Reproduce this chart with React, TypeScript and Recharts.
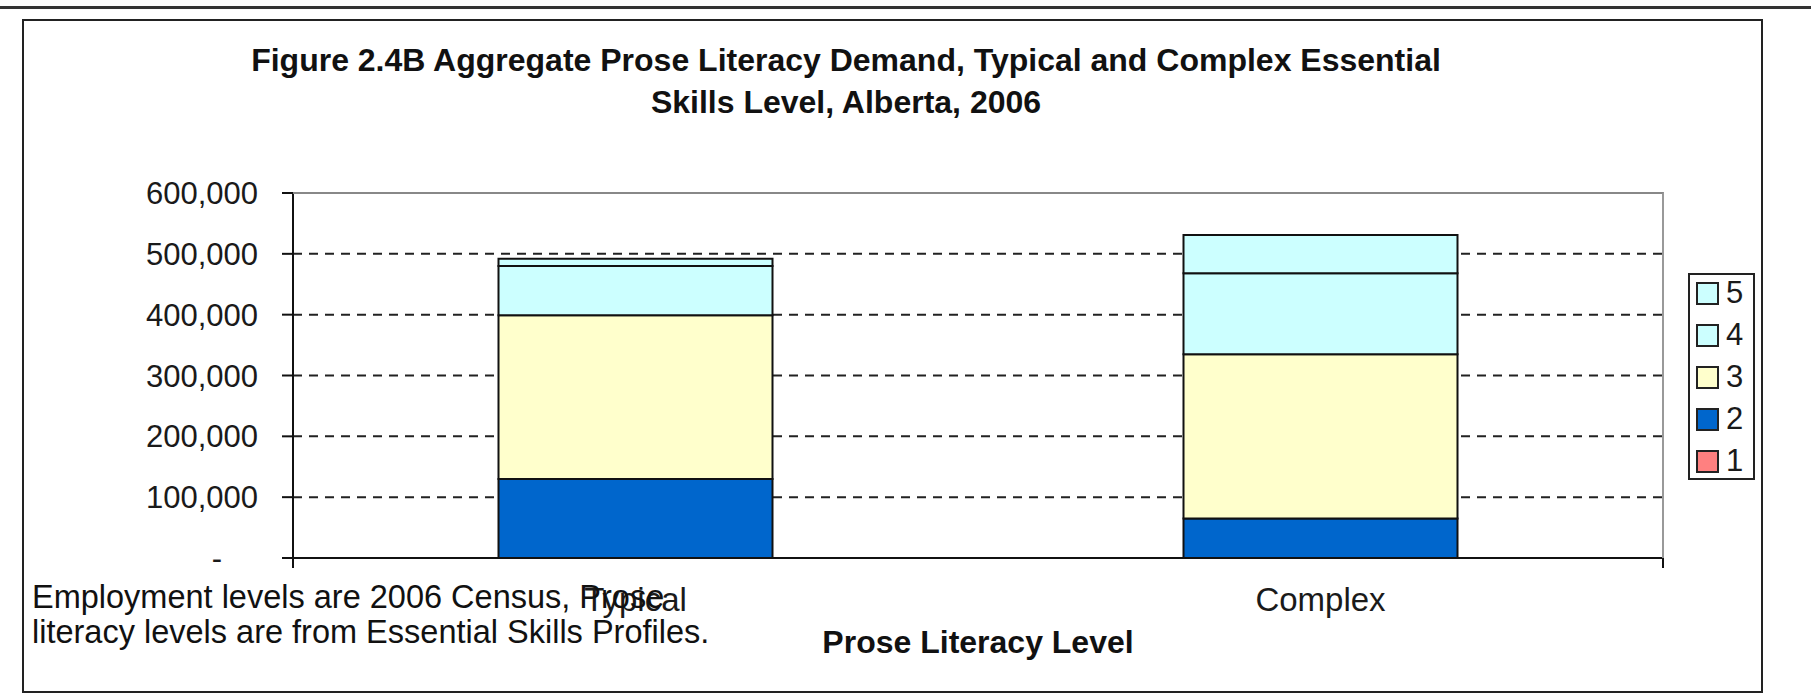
import React from "react";
import { BarChart, Bar, XAxis, YAxis, CartesianGrid } from "recharts";

// values (people employed, Alberta 2006)
const CATEGORIES = ["Typical", "Complex"];
const LEVEL_1 = [0, 0];
const LEVEL_2 = [130000, 65000];
const LEVEL_3 = [269000, 270000];
const LEVEL_4 = [81000, 133000];
const LEVEL_5 = [12000, 63000];
const Y_TICKS = [0, 100000, 200000, 300000, 400000, 500000, 600000];
const GRID_VALUES = [100000, 200000, 300000, 400000, 500000];
const EDGE_TICKS = [0, 1, 2];

const SERIES = [
  { key: "l1", name: "1", values: LEVEL_1, color: "#FF8080" },
  { key: "l2", name: "2", values: LEVEL_2, color: "#0066CC" },
  { key: "l3", name: "3", values: LEVEL_3, color: "#FFFFCC" },
  { key: "l4", name: "4", values: LEVEL_4, color: "#CCFFFF" },
  { key: "l5", name: "5", values: LEVEL_5, color: "#CCFFFF" },
];

const data = CATEGORIES.map((cat, i) => {
  const row: Record<string, string | number> = { cat };
  SERIES.forEach((s) => (row[s.key] = s.values[i]));
  return row;
});

const FONT = '"Liberation Sans", Arial, sans-serif';

const YTick = (props: any) => {
  const { x, y, payload } = props;
  const zero = payload.value === 0;
  return (
    <text
      x={x - (zero ? 36 : 0)}
      y={y}
      dy="0.36em"
      textAnchor="end"
      fontFamily={FONT}
      fontSize={31}
      fill="#1a1a1a"
    >
      {zero ? "-" : payload.value.toLocaleString("en-US")}
    </text>
  );
};

export default function App() {
  return (
    <div
      style={{
        position: "absolute",
        left: 0,
        top: 0,
        width: 1811,
        height: 698,
        overflow: "hidden",
        background: "#fff",
        fontFamily: FONT,
      }}
    >
      {/* page rule and chart frame */}
      <div style={{ position: "absolute", left: 0, top: 6, width: 1811, height: 3, background: "#333" }} />
      <div
        style={{
          position: "absolute",
          left: 22,
          top: 19,
          width: 1741,
          height: 674,
          border: "2px solid #222",
          boxSizing: "border-box",
        }}
      />
      <div
        style={{
          position: "absolute",
          left: 146,
          top: 39,
          width: 1400,
          textAlign: "center",
          whiteSpace: "nowrap",
          fontWeight: "bold",
          fontSize: 32,
          lineHeight: "42px",
          color: "#111",
        }}
      >
        Figure 2.4B Aggregate Prose Literacy Demand, Typical and Complex Essential
        <br />
        Skills Level, Alberta, 2006
      </div>

      <div style={{ position: "absolute", left: 0, top: 0 }}>
        <BarChart
          width={1811}
          height={698}
          data={data}
          barCategoryGap="30%"
          margin={{ top: 193, right: 148, bottom: 68, left: 173 }}
        >
          <CartesianGrid
            xAxisId="b"
            vertical={false}
            horizontalValues={GRID_VALUES}
            stroke="#222"
            strokeWidth={2}
            strokeDasharray="9 7"
          />
          {/* boundary ticks between categories, Excel style */}
          <XAxis
            xAxisId="a"
            type="number"
            domain={[0, 2]}
            ticks={EDGE_TICKS}
            tickFormatter={() => ""}
            tickSize={10}
            height={12}
            axisLine={{ stroke: "#111", strokeWidth: 2 }}
            tickLine={{ stroke: "#111", strokeWidth: 2 }}
          />
          <XAxis
            xAxisId="b"
            dataKey="cat"
            height={60}
            axisLine={false}
            tickLine={false}
            tickSize={0}
            tickMargin={18}
            tick={{ fontFamily: FONT, fontSize: 33, fill: "#1a1a1a" }}
          />
          <YAxis
            domain={[0, 600000]}
            ticks={Y_TICKS}
            width={120}
            tickSize={11}
            tickMargin={24}
            tick={<YTick />}
            axisLine={{ stroke: "#111", strokeWidth: 2 }}
            tickLine={{ stroke: "#111", strokeWidth: 2 }}
          />
          {SERIES.map((s) => (
            <Bar
              key={s.key}
              xAxisId="b"
              dataKey={s.key}
              name={s.name}
              stackId="a"
              fill={s.color}
              stroke="#111"
              strokeWidth={2}
              isAnimationActive={false}
            />
          ))}
        </BarChart>
      </div>

      {/* plot area border (top and right) */}
      <div
        style={{
          position: "absolute",
          left: 293,
          top: 192,
          width: 1371,
          height: 366,
          borderTop: "2px solid #888",
          borderRight: "2px solid #999",
          boxSizing: "border-box",
        }}
      />

      {/* legend */}
      <div
        style={{
          position: "absolute",
          left: 1688,
          top: 273,
          width: 67,
          height: 207,
          border: "2px solid #222",
          boxSizing: "border-box",
          padding: "0 0 0 6px",
        }}
      >
        {[...SERIES].reverse().map((s, i) => (
          <div
            key={s.key}
            style={{ display: "flex", alignItems: "center", height: 42, marginTop: i === 0 ? -3 : 0 }}
          >
            <div
              style={{
                width: 23,
                height: 23,
                background: s.color,
                border: "2px solid #222",
                boxSizing: "border-box",
                marginRight: 7,
              }}
            />
            <span style={{ fontSize: 31, lineHeight: "42px", color: "#1a1a1a" }}>{s.name}</span>
          </div>
        ))}
      </div>

      <div
        style={{
          position: "absolute",
          left: 32,
          top: 580,
          fontSize: 32.5,
          lineHeight: "35px",
          whiteSpace: "nowrap",
          color: "#111",
        }}
      >
        Employment levels are 2006 Census, Prose
        <br />
        literacy levels are from Essential Skills Profiles.
      </div>

      <div
        style={{
          position: "absolute",
          left: 678,
          top: 624,
          width: 600,
          textAlign: "center",
          fontWeight: "bold",
          fontSize: 32,
          lineHeight: "36px",
          color: "#111",
        }}
      >
        Prose Literacy Level
      </div>
    </div>
  );
}
